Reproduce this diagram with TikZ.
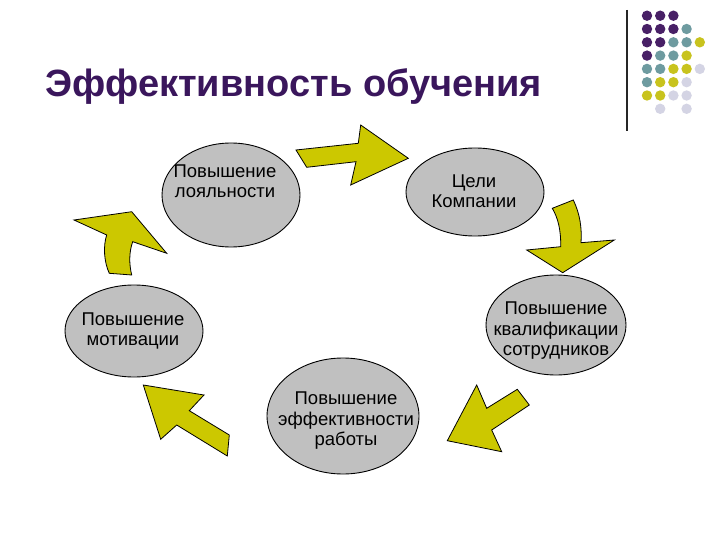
\documentclass[tikz,border=0pt]{standalone}
\usepackage{fontspec}
\setmainfont{Liberation Sans}
\usetikzlibrary{shapes.geometric}
\definecolor{ttl}{RGB}{58,22,92}
\definecolor{dpurple}{RGB}{72,32,102}
\definecolor{dteal}{RGB}{110,155,160}
\definecolor{dyellow}{RGB}{200,195,30}
\definecolor{dlav}{RGB}{212,212,228}
\definecolor{arrowfill}{RGB}{204,200,0}
\definecolor{bubblefill}{RGB}{192,192,192}
\tikzset{
  bubble/.style={ellipse, draw=black, line width=0.9pt, fill=bubblefill, inner sep=0pt},
  lbl/.style={align=center, font=\fontsize{18.5}{20.5}\selectfont, inner sep=0pt},
  bigarrow/.style={draw=black, line width=0.8pt, fill=arrowfill, line join=miter},
  dotp/.style={fill=dpurple},
  dott/.style={fill=dteal},
  doty/.style={fill=dyellow},
  dotl/.style={fill=dlav}
}
\begin{document}
\begin{tikzpicture}[x=1pt,y=-1pt]
\useasboundingbox (0,0) rectangle (720,540);
\fill[white] (0,0) rectangle (720,540);

% title
\node[anchor=base west, inner sep=0pt, text=ttl, font=\fontsize{38}{42}\selectfont\bfseries] (title) at (45,97) {Эффективность обучения};

% vertical line
\draw[line width=1.2pt, black!85] (627,10) -- (627,131);

% dots
\foreach \c/\r/\s in {0/0/dotp,1/0/dotp,2/0/dotp,
  0/1/dotp,1/1/dotp,2/1/dotp,3/1/dott,
  0/2/dotp,1/2/dotp,2/2/dott,3/2/dott,4/2/doty,
  0/3/dotp,1/3/dott,2/3/dott,3/3/doty,
  0/4/dott,1/4/dott,2/4/doty,3/4/doty,4/4/dotl,
  0/5/dott,1/5/doty,2/5/doty,3/5/dotl,
  0/6/doty,1/6/doty,2/6/dotl,3/6/dotl,
  1/7/dotl,3/7/dotl}
  \fill[\s] ({647+13.2*\c},{15.7+13.3*\r}) circle (5.2);

% ellipses
\node[bubble, minimum width=138, minimum height=104] (e1) at (231,195) {};
\node[bubble, minimum width=138, minimum height=88] (e2) at (475,192) {};
\node[bubble, minimum width=140, minimum height=100] (e3) at (556,325) {};
\node[bubble, minimum width=138, minimum height=92] (e4) at (134,331) {};
\node[bubble, minimum width=152, minimum height=116] (e5) at (343,416) {};

% labels
\node[lbl] (t1) at (225,181) {Повышение\\ лояльности};
\node[lbl] (t2) at (474,191) {Цели\\Компании};
\node[lbl] (t3) at (556,331) {Повышение\\квалификации\\ сотрудников};
\node[lbl] (t4) at (133,331) {Повышение\\ мотивации};
\node[lbl] (t5) at (346,421) {Повышение\\эффективности\\работы};

% arrows
% top: right-pointing
\draw[bigarrow] (296,150) -- (358.3,143.3) -- (360.7,125) -- (408.3,158.3) -- (350.7,185) -- (356,161.7) -- (306.7,167.3) -- cycle;
% right: downward, curved shaft
\draw[bigarrow] (552.3,208.3) -- (573.3,200) .. controls (580,214) and (582,228) .. (581,242.7) -- (614.3,240) -- (562.7,272.7) -- (526.7,250) -- (560.7,246.7) .. controls (561,230) and (558,218) .. cycle;
% bottom right: pointing down-left
\draw[bigarrow] (447.3,440.7) -- (476.7,385) -- (486.7,408.3) -- (517.3,389.3) -- (529.3,405) -- (491.7,430) -- (501.7,451.7) -- cycle;
% bottom left: pointing up-left
\draw[bigarrow] (143.3,385) -- (204,395) -- (189.3,410.7) -- (229.3,435) -- (227.3,456) -- (176.7,425) -- (160.7,439.3) -- cycle;
% left: upward, curved shaft
\draw[bigarrow] (74,220) -- (131.7,211.7) -- (166.7,253.3) -- (132.7,241.7) .. controls (129,252) and (129,264) .. (131.7,275) -- (109.3,273.3) .. controls (104,262) and (103,246) .. (106.7,235) -- cycle;
\end{tikzpicture}
\end{document}
